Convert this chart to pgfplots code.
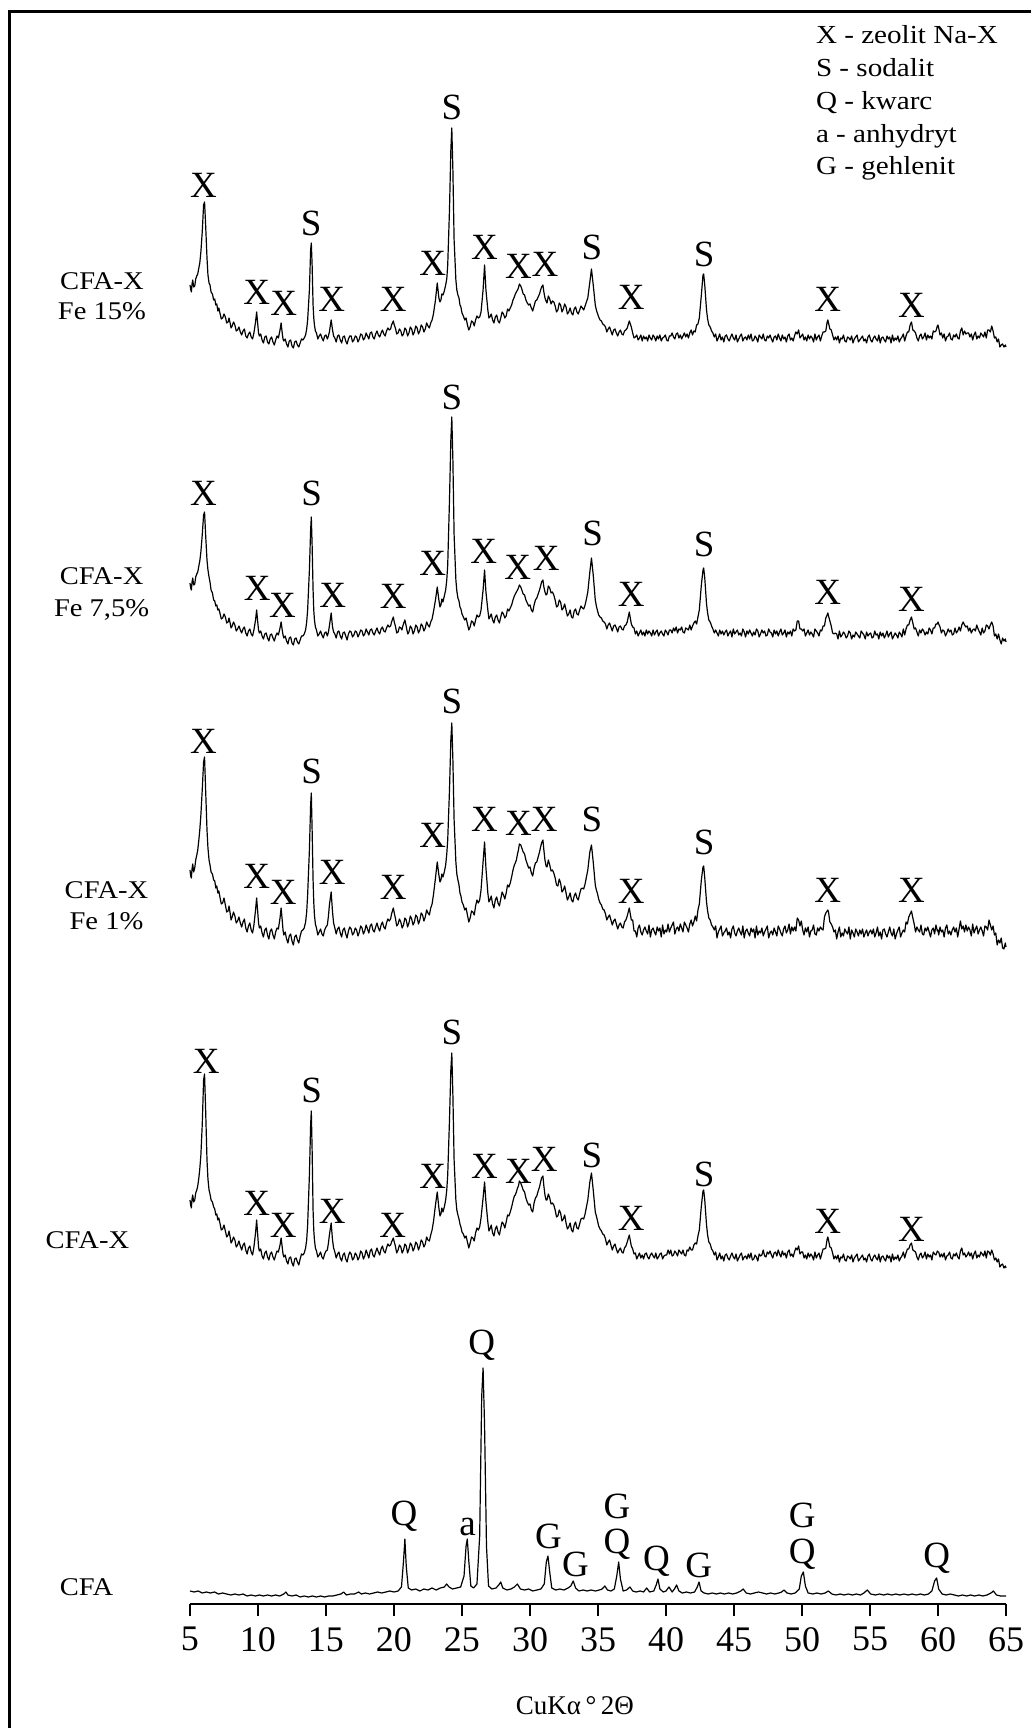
\documentclass[border=0pt]{standalone}
\usepackage{fontspec}
\setmainfont{Liberation Serif}
\newfontfamily\widefont{Liberation Serif}[FakeStretch=1.12]
\usepackage{pgfplots}
\usepackage{pgfplotstable}
\pgfplotsset{compat=1.18}

% XRD patterns: 2theta (t) and intensity above each pattern's own baseline (I)
% CFA-X Fe 15%
\pgfplotstableread[row sep=\\]{
t I\\
5.00 60\\ 5.05 56\\ 5.10 53\\ 5.15 61\\ 5.20 65\\ 5.27 58\\ 5.35 59\\ 5.42 66\\ 5.50 69\\ 5.57 71\\ 5.65 77\\ 5.72 82\\ 5.80 93\\ 5.90 113\\ 6.00 140\\ 6.07 143\\ 6.15 120\\ 6.25 87\\ 6.32 70\\ 6.40 62\\ 6.47 60\\ 6.55 53\\ 6.65 51\\ 6.74 45\\ 6.82 46\\ 6.90 40\\ 6.97 41\\ 7.05 34\\ 7.12 37\\ 7.20 32\\ 7.30 26\\ 7.40 27\\ 7.50 31\\ 7.60 28\\ 7.70 22\\ 7.80 23\\ 7.87 27\\ 7.95 22\\ 8.02 17\\ 8.10 19\\ 8.20 23\\ 8.30 20\\ 8.40 14\\ 8.50 15\\ 8.60 18\\ 8.70 13\\ 8.80 10\\ 8.90 14\\ 9.00 16\\ 9.10 9\\ 9.20 7\\ 9.30 11\\ 9.40 13\\ 9.50 8\\ 9.60 6\\ 9.70 12\\ 9.82 23\\ 9.90 33\\ 9.98 21\\
10.04 12\\ 10.10 9\\ 10.20 11\\ 10.30 5\\ 10.40 2\\ 10.50 8\\ 10.60 9\\ 10.70 3\\ 10.80 1\\ 10.90 6\\ 11.00 8\\ 11.10 3\\ 11.20 0\\ 11.30 5\\ 11.40 9\\ 11.50 7\\ 11.62 15\\ 11.70 22\\ 11.78 12\\ 11.84 6\\ 11.90 4\\ 12.00 6\\ 12.10 1\\ 12.20 -2\\ 12.30 4\\ 12.40 5\\ 12.50 -1\\ 12.60 -3\\ 12.70 3\\ 12.80 4\\ 12.90 0\\ 13.00 -2\\ 13.10 2\\ 13.20 6\\ 13.30 5\\ 13.40 7\\ 13.50 10\\ 13.58 16\\ 13.65 25\\ 13.78 55\\ 13.87 95\\ 13.92 102\\ 13.98 80\\ 14.05 40\\ 14.10 27\\ 14.15 20\\ 14.22 14\\ 14.30 12\\ 14.40 6\\ 14.50 9\\ 14.60 11\\ 14.70 7\\ 14.80 4\\ 14.90 9\\
15.00 10\\ 15.10 6\\ 15.18 9\\ 15.25 13\\ 15.38 25\\ 15.48 15\\ 15.56 9\\ 15.65 7\\ 15.75 3\\ 15.85 9\\ 15.95 10\\ 16.05 5\\ 16.15 2\\ 16.25 8\\ 16.35 9\\ 16.45 4\\ 16.55 1\\ 16.65 6\\ 16.75 9\\ 16.85 9\\ 16.95 3\\ 17.05 5\\ 17.15 9\\ 17.25 8\\ 17.35 3\\ 17.45 6\\ 17.55 11\\ 17.65 10\\ 17.75 5\\ 17.85 7\\ 17.95 12\\ 18.05 9\\ 18.15 6\\ 18.25 12\\ 18.35 13\\ 18.45 8\\ 18.55 6\\ 18.65 11\\ 18.75 14\\ 18.85 10\\ 18.95 8\\ 19.05 12\\ 19.15 15\\ 19.25 11\\ 19.35 9\\ 19.45 14\\ 19.55 17\\ 19.65 15\\ 19.75 16\\ 19.82 20\\ 19.95 24\\
20.02 20\\ 20.10 17\\ 20.20 11\\ 20.30 12\\ 20.40 16\\ 20.50 14\\ 20.60 9\\ 20.70 11\\ 20.80 17\\ 20.90 15\\ 21.00 9\\ 21.10 12\\ 21.20 18\\ 21.30 16\\ 21.40 10\\ 21.50 13\\ 21.60 19\\ 21.70 17\\ 21.80 11\\ 21.90 14\\ 22.00 20\\ 22.10 18\\ 22.20 13\\ 22.30 16\\ 22.40 22\\ 22.50 19\\ 22.60 17\\ 22.70 22\\ 22.80 25\\ 22.90 31\\ 23.05 45\\ 23.18 62\\ 23.30 47\\ 23.38 43\\ 23.45 45\\ 23.52 51\\ 23.60 50\\ 23.70 54\\ 23.80 60\\ 23.88 66\\ 23.95 80\\ 24.08 135\\ 24.18 195\\ 24.25 217\\ 24.33 175\\ 24.42 105\\ 24.55 65\\ 24.62 55\\ 24.70 50\\ 24.78 47\\ 24.85 40\\ 24.92 38\\
25.00 32\\ 25.10 29\\ 25.20 25\\ 25.30 27\\ 25.40 20\\ 25.50 15\\ 25.60 18\\ 25.70 24\\ 25.80 23\\ 25.90 19\\ 26.00 25\\ 26.10 29\\ 26.20 27\\ 26.30 28\\ 26.40 33\\ 26.55 55\\ 26.66 80\\ 26.76 55\\ 26.90 35\\ 26.98 27\\ 27.05 28\\ 27.15 31\\ 27.25 25\\ 27.35 22\\ 27.45 28\\ 27.55 30\\ 27.65 24\\ 27.75 22\\ 27.85 27\\ 27.95 33\\ 28.05 31\\ 28.15 27\\ 28.25 29\\ 28.35 36\\ 28.45 34\\ 28.55 37\\ 28.65 40\\ 28.75 45\\ 28.85 48\\ 28.92 51\\ 29.00 53\\ 29.08 55\\ 29.15 57\\ 29.22 61\\ 29.32 59\\ 29.40 56\\ 29.50 51\\ 29.60 50\\ 29.70 45\\ 29.80 42\\ 29.90 40\\
30.00 41\\ 30.10 37\\ 30.20 34\\ 30.30 39\\ 30.40 44\\ 30.50 45\\ 30.60 48\\ 30.70 51\\ 30.78 55\\ 30.85 58\\ 30.95 60\\ 31.02 53\\ 31.10 47\\ 31.18 44\\ 31.25 42\\ 31.35 49\\ 31.45 46\\ 31.55 41\\ 31.65 44\\ 31.75 43\\ 31.85 39\\ 31.95 33\\ 32.05 35\\ 32.15 42\\ 32.25 40\\ 32.35 33\\ 32.45 36\\ 32.55 41\\ 32.65 38\\ 32.75 31\\ 32.85 33\\ 32.95 37\\ 33.05 32\\ 33.15 30\\ 33.25 36\\ 33.35 38\\ 33.45 33\\ 33.55 31\\ 33.65 35\\ 33.75 39\\ 33.85 37\\ 33.95 35\\ 34.05 39\\ 34.15 43\\ 34.25 47\\ 34.40 63\\ 34.52 76\\ 34.65 60\\ 34.80 40\\ 34.88 35\\ 34.95 32\\
35.05 28\\ 35.15 25\\ 35.25 24\\ 35.35 21\\ 35.45 20\\ 35.55 18\\ 35.65 13\\ 35.75 16\\ 35.85 18\\ 35.95 14\\ 36.05 10\\ 36.15 15\\ 36.25 16\\ 36.35 12\\ 36.45 9\\ 36.55 13\\ 36.65 15\\ 36.75 11\\ 36.85 10\\ 36.95 14\\ 37.05 15\\ 37.15 17\\ 37.30 24\\ 37.45 18\\
37.55 12\\ 37.65 7\\ 37.75 8\\ 37.85 10\\ 37.95 5\\ 38.05 7\\ 38.15 10\\ 38.25 4\\ 38.35 9\\ 38.45 6\\ 38.55 8\\ 38.65 4\\ 38.75 10\\ 38.85 7\\ 38.95 5\\ 39.05 10\\ 39.15 8\\ 39.25 4\\ 39.35 9\\ 39.45 6\\ 39.55 10\\ 39.65 4\\ 39.75 7\\ 39.85 8\\ 39.95 10\\
40.05 5\\ 40.15 4\\ 40.25 9\\ 40.35 9\\ 40.45 12\\ 40.55 8\\ 40.65 6\\ 40.75 11\\ 40.85 12\\ 40.95 7\\ 41.05 10\\ 41.15 6\\ 41.25 9\\ 41.35 12\\ 41.45 8\\ 41.55 11\\ 41.65 7\\ 41.75 12\\ 41.85 15\\ 41.95 10\\ 42.05 14\\ 42.15 13\\ 42.25 20\\ 42.35 21\\ 42.45 27\\ 42.60 50\\ 42.72 70\\ 42.77 71\\ 42.85 60\\ 42.98 35\\ 43.06 26\\ 43.15 20\\ 43.25 18\\ 43.35 14\\
43.45 12\\ 43.55 8\\ 43.65 11\\ 43.75 4\\ 43.85 7\\ 43.95 11\\ 44.05 5\\ 44.15 8\\ 44.25 3\\ 44.35 9\\ 44.45 10\\ 44.55 6\\ 44.65 4\\ 44.75 8\\ 44.85 11\\ 44.95 7\\
45.05 5\\ 45.15 10\\ 45.25 3\\ 45.35 6\\ 45.45 9\\ 45.55 11\\ 45.65 4\\ 45.75 7\\ 45.85 8\\ 45.95 5\\ 46.05 10\\ 46.15 6\\ 46.25 11\\ 46.35 4\\ 46.45 5\\ 46.55 9\\ 46.65 7\\ 46.75 3\\ 46.85 10\\ 46.95 8\\ 47.05 6\\ 47.15 11\\ 47.25 5\\ 47.35 4\\ 47.45 9\\ 47.55 7\\ 47.65 10\\ 47.75 6\\ 47.85 3\\ 47.95 8\\ 48.05 9\\ 48.15 5\\ 48.25 11\\ 48.35 7\\ 48.45 4\\ 48.55 10\\ 48.65 6\\ 48.75 8\\ 48.85 3\\ 48.95 9\\ 49.05 11\\ 49.15 5\\ 49.25 7\\ 49.35 4\\ 49.45 9\\ 49.55 13\\ 49.65 11\\ 49.75 15\\ 49.85 7\\ 49.95 9\\
50.05 11\\ 50.15 5\\ 50.25 8\\ 50.35 4\\ 50.45 10\\ 50.55 6\\ 50.65 9\\ 50.75 7\\ 50.85 3\\ 50.95 11\\ 51.05 5\\ 51.15 8\\ 51.25 10\\ 51.35 4\\ 51.45 9\\ 51.55 13\\ 51.65 13\\ 51.75 14\\ 51.85 23\\ 51.90 25\\ 51.95 22\\ 52.05 16\\ 52.15 15\\ 52.25 10\\ 52.35 5\\ 52.45 8\\ 52.55 5\\ 52.65 9\\ 52.75 2\\ 52.85 7\\ 52.95 6\\ 53.05 10\\ 53.15 4\\ 53.25 3\\ 53.35 8\\ 53.45 7\\ 53.55 5\\ 53.65 9\\ 53.75 2\\ 53.85 6\\ 53.95 8\\ 54.05 10\\ 54.15 3\\ 54.25 5\\ 54.35 7\\ 54.45 9\\ 54.55 4\\ 54.65 6\\ 54.75 2\\ 54.85 8\\ 54.95 10\\
55.05 5\\ 55.15 3\\ 55.25 7\\ 55.35 9\\ 55.45 6\\ 55.55 4\\ 55.65 10\\ 55.75 2\\ 55.85 7\\ 55.95 8\\ 56.05 5\\ 56.15 3\\ 56.25 9\\ 56.35 6\\ 56.45 8\\ 56.55 2\\ 56.65 10\\ 56.75 4\\ 56.85 7\\ 56.95 5\\ 57.05 9\\ 57.15 3\\ 57.25 6\\ 57.35 8\\ 57.45 11\\ 57.55 4\\ 57.65 9\\ 57.75 13\\ 57.85 13\\ 57.95 20\\ 58.05 23\\ 58.15 15\\ 58.25 14\\ 58.35 12\\ 58.45 7\\ 58.55 4\\ 58.65 9\\ 58.75 11\\ 58.85 6\\ 58.95 8\\ 59.05 12\\ 59.15 5\\ 59.25 10\\ 59.35 7\\ 59.45 9\\ 59.55 6\\ 59.65 14\\ 59.75 13\\ 59.85 14\\ 59.95 19\\
60.00 20\\ 60.05 17\\ 60.15 10\\ 60.25 12\\ 60.35 7\\ 60.45 11\\ 60.55 4\\ 60.65 8\\ 60.75 9\\ 60.85 12\\ 60.95 6\\ 61.05 5\\ 61.15 10\\ 61.25 8\\ 61.35 11\\ 61.45 7\\ 61.55 6\\ 61.65 14\\ 61.75 17\\ 61.85 10\\ 61.95 14\\ 62.05 11\\ 62.15 12\\ 62.25 12\\ 62.35 8\\ 62.45 11\\ 62.55 5\\ 62.65 10\\ 62.75 13\\ 62.85 6\\ 62.95 9\\ 63.05 7\\ 63.15 12\\ 63.25 10\\ 63.35 8\\ 63.45 13\\ 63.55 7\\ 63.65 15\\ 63.75 15\\ 63.85 13\\ 63.95 19\\ 64.05 14\\ 64.15 7\\ 64.25 8\\ 64.35 3\\ 64.45 6\\ 64.55 -2\\ 64.65 0\\ 64.75 1\\ 64.85 -2\\ 64.95 0\\ 65.00 -2\\
}\feA

% CFA-X Fe 7,5%
\pgfplotstableread[row sep=\\]{
t I\\
5.00 57\\ 5.05 52\\ 5.10 50\\ 5.15 58\\ 5.20 62\\ 5.27 55\\ 5.35 56\\ 5.42 63\\ 5.50 66\\ 5.57 68\\ 5.65 74\\ 5.72 79\\ 5.80 88\\ 5.90 105\\ 6.00 125\\ 6.07 128\\ 6.15 105\\ 6.25 80\\ 6.32 70\\ 6.40 63\\ 6.47 58\\ 6.55 50\\ 6.65 47\\ 6.74 40\\ 6.82 39\\ 6.90 34\\ 6.97 35\\ 7.05 30\\ 7.12 31\\ 7.20 27\\ 7.30 21\\ 7.40 22\\ 7.50 26\\ 7.60 23\\ 7.70 17\\ 7.80 18\\ 7.87 22\\ 7.95 17\\ 8.02 12\\ 8.10 14\\ 8.20 18\\ 8.30 15\\ 8.40 9\\ 8.50 11\\ 8.60 14\\ 8.70 10\\ 8.80 7\\ 8.90 11\\ 9.00 13\\ 9.10 7\\ 9.20 4\\ 9.30 9\\ 9.40 11\\ 9.50 6\\ 9.60 4\\ 9.70 10\\ 9.82 20\\ 9.90 30\\ 9.98 18\\
10.04 10\\ 10.10 7\\ 10.20 9\\ 10.30 4\\ 10.40 1\\ 10.50 6\\ 10.60 7\\ 10.70 2\\ 10.80 -1\\ 10.90 5\\ 11.00 6\\ 11.10 2\\ 11.20 -1\\ 11.30 4\\ 11.40 7\\ 11.50 5\\ 11.62 12\\ 11.70 18\\ 11.78 10\\ 11.84 5\\ 11.90 2\\ 12.00 4\\ 12.10 -1\\ 12.20 -4\\ 12.30 2\\ 12.40 3\\ 12.50 -3\\ 12.60 -5\\ 12.70 1\\ 12.80 2\\ 12.90 -2\\ 13.00 -4\\ 13.10 0\\ 13.20 4\\ 13.30 4\\ 13.40 6\\ 13.50 10\\ 13.58 18\\ 13.65 30\\ 13.78 70\\ 13.87 110\\ 13.92 123\\ 13.98 95\\ 14.05 50\\ 14.10 30\\ 14.15 20\\ 14.22 13\\ 14.30 10\\ 14.40 4\\ 14.50 6\\ 14.60 9\\ 14.70 5\\ 14.80 2\\ 14.90 7\\
15.00 8\\ 15.10 4\\ 15.18 8\\ 15.25 14\\ 15.38 27\\ 15.48 13\\ 15.56 8\\ 15.65 6\\ 15.75 2\\ 15.85 8\\ 15.95 9\\ 16.05 4\\ 16.15 1\\ 16.25 7\\ 16.35 8\\ 16.45 4\\ 16.55 0\\ 16.65 6\\ 16.75 9\\ 16.85 8\\ 16.95 3\\ 17.05 5\\ 17.15 9\\ 17.25 8\\ 17.35 3\\ 17.45 6\\ 17.55 10\\ 17.65 9\\ 17.75 4\\ 17.85 6\\ 17.95 11\\ 18.05 8\\ 18.15 5\\ 18.25 10\\ 18.35 11\\ 18.45 7\\ 18.55 5\\ 18.65 9\\ 18.75 12\\ 18.85 8\\ 18.95 6\\ 19.05 11\\ 19.15 13\\ 19.25 9\\ 19.35 8\\ 19.45 12\\ 19.55 15\\ 19.65 13\\ 19.75 14\\ 19.82 18\\ 19.95 23\\
20.02 18\\ 20.10 14\\ 20.20 7\\ 20.30 8\\ 20.40 13\\ 20.50 12\\ 20.58 10\\ 20.65 14\\ 20.72 17\\ 20.80 20\\ 20.88 15\\ 20.95 10\\ 21.02 6\\ 21.10 8\\ 21.20 14\\ 21.30 12\\ 21.40 6\\ 21.50 9\\ 21.60 15\\ 21.70 13\\ 21.80 7\\ 21.90 10\\ 22.00 16\\ 22.10 14\\ 22.20 9\\ 22.30 12\\ 22.40 18\\ 22.50 15\\ 22.60 13\\ 22.70 18\\ 22.80 21\\ 22.90 28\\ 23.05 40\\ 23.18 53\\ 23.30 40\\ 23.38 33\\ 23.45 35\\ 23.52 41\\ 23.60 38\\ 23.70 44\\ 23.80 50\\ 23.88 60\\ 23.95 75\\ 24.08 140\\ 24.18 200\\ 24.25 223\\ 24.33 180\\ 24.42 105\\ 24.55 60\\ 24.62 49\\ 24.70 42\\ 24.78 39\\ 24.85 33\\ 24.92 31\\
25.00 26\\ 25.10 23\\ 25.20 20\\ 25.30 22\\ 25.40 16\\ 25.50 10\\ 25.60 13\\ 25.70 19\\ 25.80 18\\ 25.90 14\\ 26.00 20\\ 26.10 25\\ 26.20 23\\ 26.30 24\\ 26.40 30\\ 26.55 50\\ 26.66 70\\ 26.76 48\\ 26.90 30\\ 26.98 21\\ 27.05 23\\ 27.15 26\\ 27.25 20\\ 27.35 17\\ 27.45 23\\ 27.55 25\\ 27.65 20\\ 27.75 17\\ 27.85 23\\ 27.95 28\\ 28.05 26\\ 28.15 22\\ 28.25 24\\ 28.35 31\\ 28.45 29\\ 28.55 32\\ 28.65 35\\ 28.75 40\\ 28.85 44\\ 28.92 46\\ 29.00 48\\ 29.08 50\\ 29.15 52\\ 29.22 55\\ 29.32 53\\ 29.40 50\\ 29.50 46\\ 29.60 45\\ 29.70 40\\ 29.80 37\\ 29.90 34\\
30.00 35\\ 30.10 30\\ 30.20 28\\ 30.30 35\\ 30.40 40\\ 30.50 42\\ 30.60 46\\ 30.70 50\\ 30.78 54\\ 30.85 58\\ 30.95 60\\ 31.02 53\\ 31.10 48\\ 31.18 45\\ 31.25 46\\ 31.35 54\\ 31.45 52\\ 31.55 47\\ 31.65 48\\ 31.75 45\\ 31.85 40\\ 31.95 33\\ 32.05 34\\ 32.15 40\\ 32.25 38\\ 32.35 30\\ 32.45 32\\ 32.55 36\\ 32.65 30\\ 32.75 24\\ 32.85 26\\ 32.95 30\\ 33.05 23\\ 33.15 22\\ 33.25 29\\ 33.35 31\\ 33.45 26\\ 33.55 25\\ 33.65 30\\ 33.75 34\\ 33.85 32\\ 33.95 31\\ 34.05 35\\ 34.15 41\\ 34.25 48\\ 34.40 68\\ 34.52 82\\ 34.65 65\\ 34.80 40\\ 34.88 34\\ 34.95 30\\
35.05 25\\ 35.15 23\\ 35.25 22\\ 35.35 19\\ 35.45 18\\ 35.55 16\\ 35.65 11\\ 35.75 15\\ 35.85 17\\ 35.95 13\\ 36.05 9\\ 36.15 14\\ 36.25 15\\ 36.35 12\\ 36.45 8\\ 36.55 13\\ 36.65 14\\ 36.75 11\\ 36.85 10\\ 36.95 14\\ 37.05 15\\ 37.15 18\\ 37.30 28\\ 37.45 16\\
37.55 13\\ 37.65 12\\ 37.75 6\\ 37.85 9\\ 37.95 4\\ 38.05 7\\ 38.15 10\\ 38.25 5\\ 38.35 8\\ 38.45 4\\ 38.55 10\\ 38.65 6\\ 38.75 9\\ 38.85 7\\ 38.95 4\\ 39.05 10\\ 39.15 5\\ 39.25 8\\ 39.35 10\\ 39.45 4\\ 39.55 7\\ 39.65 9\\ 39.75 6\\ 39.85 4\\ 39.95 10\\
40.05 8\\ 40.15 5\\ 40.25 10\\ 40.35 10\\ 40.45 7\\ 40.55 12\\ 40.65 9\\ 40.75 13\\ 40.85 7\\ 40.95 11\\ 41.05 10\\ 41.15 13\\ 41.25 8\\ 41.35 7\\ 41.45 12\\ 41.55 11\\ 41.65 10\\ 41.75 15\\ 41.85 10\\ 41.95 14\\ 42.05 17\\ 42.15 19\\ 42.25 16\\ 42.35 23\\ 42.45 30\\ 42.60 55\\ 42.72 70\\ 42.77 72\\ 42.85 62\\ 42.98 36\\ 43.06 27\\ 43.15 20\\ 43.25 18\\ 43.35 14\\
43.45 11\\ 43.55 7\\ 43.65 10\\ 43.75 7\\ 43.85 4\\ 43.95 10\\ 44.05 6\\ 44.15 9\\ 44.25 5\\ 44.35 8\\ 44.45 10\\ 44.55 4\\ 44.65 7\\ 44.75 9\\ 44.85 3\\ 44.95 11\\
45.05 6\\ 45.15 8\\ 45.25 10\\ 45.35 5\\ 45.45 7\\ 45.55 4\\ 45.65 11\\ 45.75 8\\ 45.85 3\\ 45.95 9\\ 46.05 6\\ 46.15 10\\ 46.25 7\\ 46.35 4\\ 46.45 8\\ 46.55 5\\ 46.65 11\\ 46.75 9\\ 46.85 3\\ 46.95 6\\ 47.05 10\\ 47.15 7\\ 47.25 9\\ 47.35 4\\ 47.45 5\\ 47.55 11\\ 47.65 8\\ 47.75 7\\ 47.85 3\\ 47.95 10\\ 48.05 6\\ 48.15 9\\ 48.25 4\\ 48.35 8\\ 48.45 11\\ 48.55 5\\ 48.65 7\\ 48.75 10\\ 48.85 3\\ 48.95 8\\ 49.05 6\\ 49.15 9\\ 49.25 4\\ 49.35 11\\ 49.45 9\\ 49.55 10\\ 49.65 19\\ 49.75 19\\ 49.85 11\\ 49.95 11\\
50.05 9\\ 50.15 11\\ 50.25 4\\ 50.35 7\\ 50.45 10\\ 50.55 5\\ 50.65 8\\ 50.75 6\\ 50.85 3\\ 50.95 11\\ 51.05 9\\ 51.15 7\\ 51.25 4\\ 51.35 10\\ 51.45 9\\ 51.55 14\\ 51.65 14\\ 51.75 22\\ 51.85 25\\ 51.90 27\\ 51.95 24\\ 52.05 19\\ 52.15 14\\ 52.25 7\\ 52.35 6\\ 52.45 7\\ 52.55 6\\ 52.65 1\\ 52.75 9\\ 52.85 3\\ 52.95 5\\ 53.05 8\\ 53.15 6\\ 53.25 2\\ 53.35 4\\ 53.45 9\\ 53.55 7\\ 53.65 1\\ 53.75 5\\ 53.85 3\\ 53.95 8\\ 54.05 6\\ 54.15 4\\ 54.25 2\\ 54.35 9\\ 54.45 7\\ 54.55 5\\ 54.65 1\\ 54.75 8\\ 54.85 4\\ 54.95 6\\
55.05 7\\ 55.15 2\\ 55.25 3\\ 55.35 9\\ 55.45 5\\ 55.55 6\\ 55.65 1\\ 55.75 8\\ 55.85 4\\ 55.95 7\\ 56.05 2\\ 56.15 5\\ 56.25 9\\ 56.35 3\\ 56.45 6\\ 56.55 8\\ 56.65 1\\ 56.75 4\\ 56.85 7\\ 56.95 5\\ 57.05 2\\ 57.15 8\\ 57.25 6\\ 57.35 3\\ 57.45 11\\ 57.55 5\\ 57.65 11\\ 57.75 15\\ 57.85 15\\ 57.95 20\\ 58.05 23\\ 58.15 17\\ 58.25 11\\ 58.35 12\\ 58.45 8\\ 58.55 4\\ 58.65 10\\ 58.75 7\\ 58.85 11\\ 58.95 9\\ 59.05 5\\ 59.15 8\\ 59.25 6\\ 59.35 12\\ 59.45 10\\ 59.55 6\\ 59.65 12\\ 59.75 12\\ 59.85 16\\ 59.95 16\\
60.00 18\\ 60.05 16\\ 60.15 13\\ 60.25 7\\ 60.35 10\\ 60.45 9\\ 60.55 4\\ 60.65 7\\ 60.75 11\\ 60.85 8\\ 60.95 10\\ 61.05 5\\ 61.15 6\\ 61.25 12\\ 61.35 7\\ 61.45 9\\ 61.55 13\\ 61.65 9\\ 61.75 15\\ 61.85 18\\ 61.95 15\\ 62.05 13\\ 62.15 14\\ 62.25 9\\ 62.35 12\\ 62.45 7\\ 62.55 10\\ 62.65 11\\ 62.75 9\\ 62.85 15\\ 62.95 11\\ 63.05 8\\ 63.15 5\\ 63.25 12\\ 63.35 7\\ 63.45 9\\ 63.55 15\\ 63.65 14\\ 63.75 11\\ 63.85 15\\ 63.95 18\\ 64.05 14\\ 64.15 4\\ 64.25 6\\ 64.35 1\\ 64.45 6\\ 64.55 0\\ 64.65 -4\\ 64.75 2\\ 64.85 -1\\ 64.95 1\\ 65.00 -2\\
}\feB

% CFA-X Fe 1%
\pgfplotstableread[row sep=\\]{
t I\\
5.00 70\\ 5.05 64\\ 5.10 62\\ 5.15 71\\ 5.20 76\\ 5.27 68\\ 5.35 72\\ 5.42 80\\ 5.50 85\\ 5.57 90\\ 5.65 100\\ 5.72 110\\ 5.80 125\\ 5.90 150\\ 6.00 178\\ 6.07 183\\ 6.15 150\\ 6.25 110\\ 6.32 92\\ 6.40 80\\ 6.47 75\\ 6.55 68\\ 6.65 66\\ 6.74 60\\ 6.82 59\\ 6.90 52\\ 6.97 54\\ 7.05 47\\ 7.12 49\\ 7.20 43\\ 7.30 36\\ 7.40 37\\ 7.50 42\\ 7.60 35\\ 7.70 28\\ 7.80 29\\ 7.87 34\\ 7.95 27\\ 8.02 20\\ 8.10 23\\ 8.20 28\\ 8.30 24\\ 8.40 17\\ 8.50 19\\ 8.60 23\\ 8.70 17\\ 8.80 13\\ 8.90 18\\ 9.00 21\\ 9.10 12\\ 9.20 8\\ 9.30 14\\ 9.40 17\\ 9.50 10\\ 9.60 7\\ 9.70 15\\ 9.82 30\\ 9.90 42\\ 9.98 28\\
10.04 17\\ 10.10 12\\ 10.20 14\\ 10.30 7\\ 10.40 3\\ 10.50 10\\ 10.60 12\\ 10.70 5\\ 10.80 1\\ 10.90 9\\ 11.00 11\\ 11.10 5\\ 11.20 1\\ 11.30 8\\ 11.40 12\\ 11.50 11\\ 11.62 22\\ 11.70 32\\ 11.78 20\\ 11.84 10\\ 11.90 5\\ 12.00 8\\ 12.10 1\\ 12.20 -3\\ 12.30 4\\ 12.40 6\\ 12.50 -1\\ 12.60 -5\\ 12.70 3\\ 12.80 5\\ 12.90 0\\ 13.00 -3\\ 13.10 4\\ 13.20 9\\ 13.30 10\\ 13.40 12\\ 13.50 18\\ 13.58 28\\ 13.65 45\\ 13.78 90\\ 13.87 135\\ 13.92 147\\ 13.98 110\\ 14.05 60\\ 14.10 38\\ 14.15 25\\ 14.22 16\\ 14.30 12\\ 14.40 5\\ 14.50 8\\ 14.60 11\\ 14.70 6\\ 14.80 4\\ 14.90 10\\
15.00 13\\ 15.10 15\\ 15.18 24\\ 15.25 35\\ 15.38 48\\ 15.48 28\\ 15.56 17\\ 15.65 12\\ 15.75 6\\ 15.85 11\\ 15.95 13\\ 16.05 7\\ 16.15 3\\ 16.25 10\\ 16.35 12\\ 16.45 6\\ 16.55 2\\ 16.65 9\\ 16.75 13\\ 16.85 11\\ 16.95 5\\ 17.05 7\\ 17.15 12\\ 17.25 10\\ 17.35 4\\ 17.45 8\\ 17.55 14\\ 17.65 12\\ 17.75 6\\ 17.85 9\\ 17.95 15\\ 18.05 11\\ 18.15 7\\ 18.25 14\\ 18.35 16\\ 18.45 10\\ 18.55 8\\ 18.65 13\\ 18.75 17\\ 18.85 12\\ 18.95 9\\ 19.05 15\\ 19.15 18\\ 19.25 13\\ 19.35 11\\ 19.45 17\\ 19.55 21\\ 19.65 19\\ 19.75 21\\ 19.82 26\\ 19.95 32\\
20.02 27\\ 20.10 22\\ 20.20 14\\ 20.30 16\\ 20.40 21\\ 20.50 18\\ 20.60 12\\ 20.70 15\\ 20.80 22\\ 20.90 20\\ 21.00 13\\ 21.10 17\\ 21.20 24\\ 21.30 21\\ 21.40 15\\ 21.50 18\\ 21.60 25\\ 21.70 23\\ 21.80 16\\ 21.90 20\\ 22.00 27\\ 22.10 25\\ 22.20 19\\ 22.30 23\\ 22.40 30\\ 22.50 27\\ 22.60 25\\ 22.70 32\\ 22.80 36\\ 22.90 45\\ 23.05 62\\ 23.18 78\\ 23.30 65\\ 23.38 58\\ 23.45 60\\ 23.52 66\\ 23.60 63\\ 23.70 68\\ 23.80 75\\ 23.88 86\\ 23.95 100\\ 24.08 150\\ 24.18 200\\ 24.25 217\\ 24.33 180\\ 24.42 120\\ 24.55 78\\ 24.62 66\\ 24.70 60\\ 24.78 55\\ 24.85 47\\ 24.92 44\\
25.00 38\\ 25.10 35\\ 25.20 30\\ 25.30 32\\ 25.40 25\\ 25.50 18\\ 25.60 22\\ 25.70 29\\ 25.80 28\\ 25.90 25\\ 26.00 34\\ 26.10 40\\ 26.20 37\\ 26.30 40\\ 26.40 50\\ 26.55 78\\ 26.66 98\\ 26.76 72\\ 26.90 47\\ 26.98 38\\ 27.05 40\\ 27.15 44\\ 27.25 36\\ 27.35 32\\ 27.45 40\\ 27.55 43\\ 27.65 37\\ 27.75 34\\ 27.85 41\\ 27.95 48\\ 28.05 45\\ 28.15 41\\ 28.25 47\\ 28.35 55\\ 28.45 53\\ 28.55 57\\ 28.65 63\\ 28.75 70\\ 28.85 75\\ 28.92 77\\ 29.00 80\\ 29.08 86\\ 29.15 90\\ 29.22 96\\ 29.32 95\\ 29.40 92\\ 29.50 88\\ 29.60 86\\ 29.70 80\\ 29.80 76\\ 29.90 72\\
30.00 73\\ 30.10 67\\ 30.20 64\\ 30.30 72\\ 30.40 77\\ 30.50 78\\ 30.60 83\\ 30.70 88\\ 30.78 93\\ 30.85 97\\ 30.95 100\\ 31.02 90\\ 31.10 80\\ 31.18 74\\ 31.25 73\\ 31.35 80\\ 31.45 75\\ 31.55 69\\ 31.65 70\\ 31.75 67\\ 31.85 62\\ 31.95 55\\ 32.05 54\\ 32.15 61\\ 32.25 57\\ 32.35 48\\ 32.45 50\\ 32.55 54\\ 32.65 47\\ 32.75 40\\ 32.85 43\\ 32.95 47\\ 33.05 40\\ 33.15 38\\ 33.25 44\\ 33.35 47\\ 33.45 42\\ 33.55 40\\ 33.65 46\\ 33.75 51\\ 33.85 52\\ 33.95 51\\ 34.05 56\\ 34.15 63\\ 34.25 70\\ 34.40 88\\ 34.52 95\\ 34.65 78\\ 34.80 55\\ 34.88 50\\ 34.95 47\\
35.05 41\\ 35.15 37\\ 35.25 35\\ 35.35 31\\ 35.45 30\\ 35.55 26\\ 35.65 20\\ 35.75 23\\ 35.85 25\\ 35.95 20\\ 36.05 15\\ 36.15 19\\ 36.25 21\\ 36.35 16\\ 36.45 11\\ 36.55 15\\ 36.65 17\\ 36.75 13\\ 36.85 12\\ 36.95 18\\ 37.05 20\\ 37.15 24\\ 37.30 32\\ 37.45 20\\
37.55 20\\ 37.65 9\\ 37.75 9\\ 37.85 3\\ 37.95 12\\ 38.05 15\\ 38.15 8\\ 38.25 5\\ 38.35 10\\ 38.45 13\\ 38.55 9\\ 38.65 6\\ 38.75 15\\ 38.85 3\\ 38.95 10\\ 39.05 12\\ 39.15 8\\ 39.25 5\\ 39.35 13\\ 39.45 9\\ 39.55 12\\ 39.65 3\\ 39.75 15\\ 39.85 6\\ 39.95 10\\
40.05 8\\ 40.15 16\\ 40.25 8\\ 40.35 12\\ 40.45 15\\ 40.55 18\\ 40.65 6\\ 40.75 11\\ 40.85 13\\ 40.95 9\\ 41.05 16\\ 41.15 12\\ 41.25 8\\ 41.35 18\\ 41.45 15\\ 41.55 12\\ 41.65 8\\ 41.75 16\\ 41.85 20\\ 41.95 14\\ 42.05 18\\ 42.15 24\\ 42.25 19\\ 42.35 30\\ 42.45 36\\ 42.60 60\\ 42.72 73\\ 42.77 74\\ 42.85 62\\ 42.98 38\\ 43.06 29\\ 43.15 22\\ 43.25 20\\ 43.35 15\\
43.45 13\\ 43.55 10\\ 43.65 14\\ 43.75 2\\ 43.85 8\\ 43.95 11\\ 44.05 14\\ 44.15 4\\ 44.25 7\\ 44.35 9\\ 44.45 12\\ 44.55 5\\ 44.65 8\\ 44.75 2\\ 44.85 11\\ 44.95 14\\
45.05 7\\ 45.15 4\\ 45.25 9\\ 45.35 12\\ 45.45 8\\ 45.55 5\\ 45.65 14\\ 45.75 2\\ 45.85 9\\ 45.95 11\\ 46.05 7\\ 46.15 4\\ 46.25 12\\ 46.35 8\\ 46.45 11\\ 46.55 2\\ 46.65 14\\ 46.75 5\\ 46.85 9\\ 46.95 7\\ 47.05 12\\ 47.15 4\\ 47.25 8\\ 47.35 11\\ 47.45 14\\ 47.55 2\\ 47.65 7\\ 47.75 9\\ 47.85 5\\ 47.95 12\\ 48.05 8\\ 48.15 4\\ 48.25 14\\ 48.35 11\\ 48.45 7\\ 48.55 4\\ 48.65 11\\ 48.75 14\\ 48.85 7\\ 48.95 10\\ 49.05 16\\ 49.15 6\\ 49.25 13\\ 49.35 9\\ 49.45 13\\ 49.55 9\\ 49.65 22\\ 49.75 20\\ 49.85 14\\ 49.95 19\\
50.05 10\\ 50.15 5\\ 50.25 12\\ 50.35 8\\ 50.45 13\\ 50.55 3\\ 50.65 9\\ 50.75 10\\ 50.85 15\\ 50.95 6\\ 51.05 5\\ 51.15 12\\ 51.25 9\\ 51.35 13\\ 51.45 11\\ 51.55 10\\ 51.65 23\\ 51.75 27\\ 51.85 29\\ 51.90 30\\ 51.95 28\\ 52.05 18\\ 52.15 16\\ 52.25 13\\ 52.35 8\\ 52.45 10\\ 52.55 1\\ 52.65 8\\ 52.75 13\\ 52.85 3\\ 52.95 7\\ 53.05 4\\ 53.15 11\\ 53.25 8\\ 53.35 6\\ 53.45 13\\ 53.55 1\\ 53.65 10\\ 53.75 7\\ 53.85 3\\ 53.95 11\\ 54.05 8\\ 54.15 4\\ 54.25 10\\ 54.35 6\\ 54.45 11\\ 54.55 3\\ 54.65 7\\ 54.75 10\\ 54.85 4\\ 54.95 8\\
55.05 10\\ 55.15 6\\ 55.25 11\\ 55.35 3\\ 55.45 7\\ 55.55 13\\ 55.65 4\\ 55.75 8\\ 55.85 1\\ 55.95 10\\ 56.05 11\\ 56.15 6\\ 56.25 3\\ 56.35 8\\ 56.45 13\\ 56.55 7\\ 56.65 4\\ 56.75 11\\ 56.85 1\\ 56.95 6\\ 57.05 10\\ 57.15 13\\ 57.25 3\\ 57.35 7\\ 57.45 10\\ 57.55 8\\ 57.65 18\\ 57.75 16\\ 57.85 23\\ 57.95 26\\ 58.05 29\\ 58.15 22\\ 58.25 16\\ 58.35 8\\ 58.45 13\\ 58.55 10\\ 58.65 8\\ 58.75 15\\ 58.85 6\\ 58.95 5\\ 59.05 12\\ 59.15 9\\ 59.25 13\\ 59.35 8\\ 59.45 3\\ 59.55 10\\ 59.65 12\\ 59.75 6\\ 59.85 15\\ 59.95 9\\
60.00 10\\ 60.05 5\\ 60.15 13\\ 60.25 8\\ 60.35 10\\ 60.45 3\\ 60.55 12\\ 60.65 15\\ 60.75 6\\ 60.85 9\\ 60.95 5\\ 61.05 10\\ 61.15 13\\ 61.25 8\\ 61.35 12\\ 61.45 3\\ 61.55 11\\ 61.65 19\\ 61.75 11\\ 61.85 14\\ 61.95 8\\ 62.05 15\\ 62.15 9\\ 62.25 13\\ 62.35 10\\ 62.45 4\\ 62.55 16\\ 62.65 7\\ 62.75 11\\ 62.85 14\\ 62.95 6\\ 63.05 10\\ 63.15 13\\ 63.25 9\\ 63.35 4\\ 63.45 14\\ 63.55 13\\ 63.65 10\\ 63.75 20\\ 63.85 15\\ 63.95 10\\ 64.05 14\\ 64.15 5\\ 64.25 7\\ 64.35 -5\\ 64.45 0\\ 64.55 -3\\ 64.65 2\\ 64.75 -8\\ 64.85 -9\\ 64.95 -3\\ 65.00 -7\\
}\feC

% CFA-X
\pgfplotstableread[row sep=\\]{
t I\\
5.00 62\\ 5.05 57\\ 5.10 54\\ 5.15 63\\ 5.20 67\\ 5.27 60\\ 5.35 62\\ 5.42 69\\ 5.50 72\\ 5.57 76\\ 5.65 84\\ 5.72 93\\ 5.80 107\\ 5.90 137\\ 6.00 182\\ 6.07 188\\ 6.15 152\\ 6.25 102\\ 6.32 83\\ 6.40 72\\ 6.47 68\\ 6.55 62\\ 6.65 60\\ 6.74 55\\ 6.82 53\\ 6.90 47\\ 6.97 48\\ 7.05 42\\ 7.12 44\\ 7.20 39\\ 7.30 32\\ 7.40 33\\ 7.50 37\\ 7.60 31\\ 7.70 25\\ 7.80 27\\ 7.87 31\\ 7.95 25\\ 8.02 19\\ 8.10 21\\ 8.20 25\\ 8.30 22\\ 8.40 15\\ 8.50 17\\ 8.60 21\\ 8.70 16\\ 8.80 12\\ 8.90 17\\ 9.00 19\\ 9.10 12\\ 9.20 8\\ 9.30 14\\ 9.40 16\\ 9.50 10\\ 9.60 7\\ 9.70 15\\ 9.82 29\\ 9.90 42\\ 9.98 27\\
10.04 15\\ 10.10 11\\ 10.20 13\\ 10.30 6\\ 10.40 3\\ 10.50 9\\ 10.60 11\\ 10.70 5\\ 10.80 2\\ 10.90 8\\ 11.00 10\\ 11.10 5\\ 11.20 2\\ 11.30 7\\ 11.40 11\\ 11.50 10\\ 11.62 17\\ 11.70 24\\ 11.78 15\\ 11.84 8\\ 11.90 5\\ 12.00 7\\ 12.10 1\\ 12.20 -2\\ 12.30 4\\ 12.40 5\\ 12.50 -1\\ 12.60 -4\\ 12.70 3\\ 12.80 4\\ 12.90 0\\ 13.00 -3\\ 13.10 3\\ 13.20 8\\ 13.30 7\\ 13.40 9\\ 13.50 14\\ 13.58 22\\ 13.65 37\\ 13.78 87\\ 13.87 137\\ 13.92 151\\ 13.98 112\\ 14.05 52\\ 14.10 32\\ 14.15 22\\ 14.22 14\\ 14.30 11\\ 14.40 5\\ 14.50 7\\ 14.60 10\\ 14.70 5\\ 14.80 3\\ 14.90 8\\
15.00 11\\ 15.10 12\\ 15.18 19\\ 15.25 27\\ 15.38 39\\ 15.48 22\\ 15.56 14\\ 15.65 10\\ 15.75 4\\ 15.85 8\\ 15.95 10\\ 16.05 4\\ 16.15 1\\ 16.25 7\\ 16.35 9\\ 16.45 3\\ 16.55 0\\ 16.65 6\\ 16.75 10\\ 16.85 8\\ 16.95 2\\ 17.05 4\\ 17.15 9\\ 17.25 7\\ 17.35 2\\ 17.45 5\\ 17.55 11\\ 17.65 9\\ 17.75 3\\ 17.85 6\\ 17.95 12\\ 18.05 8\\ 18.15 4\\ 18.25 11\\ 18.35 13\\ 18.45 7\\ 18.55 5\\ 18.65 10\\ 18.75 14\\ 18.85 10\\ 18.95 7\\ 19.05 13\\ 19.15 16\\ 19.25 11\\ 19.35 9\\ 19.45 14\\ 19.55 18\\ 19.65 16\\ 19.75 17\\ 19.82 20\\ 19.95 24\\
20.02 20\\ 20.10 16\\ 20.20 9\\ 20.30 12\\ 20.40 17\\ 20.50 15\\ 20.60 9\\ 20.70 12\\ 20.80 18\\ 20.90 16\\ 21.00 9\\ 21.10 13\\ 21.20 19\\ 21.30 17\\ 21.40 11\\ 21.50 14\\ 21.60 20\\ 21.70 18\\ 21.80 12\\ 21.90 16\\ 22.00 22\\ 22.10 20\\ 22.20 15\\ 22.30 18\\ 22.40 25\\ 22.50 22\\ 22.60 21\\ 22.70 27\\ 22.80 32\\ 22.90 40\\ 23.05 57\\ 23.18 70\\ 23.30 54\\ 23.38 46\\ 23.45 48\\ 23.52 54\\ 23.60 50\\ 23.70 55\\ 23.80 62\\ 23.88 72\\ 23.95 87\\ 24.08 142\\ 24.18 192\\ 24.25 209\\ 24.33 167\\ 24.42 102\\ 24.55 62\\ 24.62 52\\ 24.70 47\\ 24.78 43\\ 24.85 38\\ 24.92 35\\
25.00 30\\ 25.10 28\\ 25.20 24\\ 25.30 26\\ 25.40 20\\ 25.50 14\\ 25.60 19\\ 25.70 25\\ 25.80 24\\ 25.90 21\\ 26.00 29\\ 26.10 34\\ 26.20 32\\ 26.30 35\\ 26.40 44\\ 26.55 64\\ 26.66 80\\ 26.76 60\\ 26.90 40\\ 26.98 31\\ 27.05 33\\ 27.15 37\\ 27.25 29\\ 27.35 26\\ 27.45 33\\ 27.55 36\\ 27.65 30\\ 27.75 27\\ 27.85 34\\ 27.95 40\\ 28.05 38\\ 28.15 34\\ 28.25 40\\ 28.35 47\\ 28.45 46\\ 28.55 50\\ 28.65 55\\ 28.75 61\\ 28.85 66\\ 28.92 67\\ 29.00 70\\ 29.08 74\\ 29.15 76\\ 29.22 81\\ 29.32 79\\ 29.40 76\\ 29.50 72\\ 29.60 70\\ 29.70 64\\ 29.80 60\\ 29.90 57\\
30.00 58\\ 30.10 52\\ 30.20 50\\ 30.30 59\\ 30.40 64\\ 30.50 66\\ 30.60 71\\ 30.70 75\\ 30.78 80\\ 30.85 84\\ 30.95 86\\ 31.02 76\\ 31.10 67\\ 31.18 62\\ 31.25 62\\ 31.35 68\\ 31.45 64\\ 31.55 58\\ 31.65 59\\ 31.75 57\\ 31.85 52\\ 31.95 45\\ 32.05 46\\ 32.15 52\\ 32.25 49\\ 32.35 41\\ 32.45 43\\ 32.55 47\\ 32.65 39\\ 32.75 33\\ 32.85 35\\ 32.95 39\\ 33.05 32\\ 33.15 30\\ 33.25 37\\ 33.35 40\\ 33.45 34\\ 33.55 33\\ 33.65 38\\ 33.75 43\\ 33.85 44\\ 33.95 43\\ 34.05 48\\ 34.15 55\\ 34.25 62\\ 34.40 80\\ 34.52 89\\ 34.65 72\\ 34.80 50\\ 34.88 46\\ 34.95 42\\
35.05 36\\ 35.15 33\\ 35.25 31\\ 35.35 28\\ 35.45 27\\ 35.55 23\\ 35.65 17\\ 35.75 20\\ 35.85 22\\ 35.95 17\\ 36.05 12\\ 36.15 16\\ 36.25 18\\ 36.35 13\\ 36.45 9\\ 36.55 12\\ 36.65 14\\ 36.75 10\\ 36.85 9\\ 36.95 14\\ 37.05 16\\ 37.15 20\\ 37.30 27\\ 37.45 16\\
37.55 13\\ 37.65 8\\ 37.75 9\\ 37.85 3\\ 37.95 6\\ 38.05 9\\ 38.15 4\\ 38.25 7\\ 38.35 3\\ 38.45 8\\ 38.55 9\\ 38.65 5\\ 38.75 3\\ 38.85 7\\ 38.95 9\\ 39.05 6\\ 39.15 4\\ 39.25 9\\ 39.35 3\\ 39.45 5\\ 39.55 8\\ 39.65 9\\ 39.75 3\\ 39.85 6\\ 39.95 7\\
40.05 7\\ 40.15 12\\ 40.25 8\\ 40.35 12\\ 40.45 6\\ 40.55 7\\ 40.65 11\\ 40.75 9\\ 40.85 6\\ 40.95 12\\ 41.05 10\\ 41.15 8\\ 41.25 12\\ 41.35 7\\ 41.45 6\\ 41.55 12\\ 41.65 11\\ 41.75 15\\ 41.85 12\\ 41.95 12\\ 42.05 17\\ 42.15 19\\ 42.25 18\\ 42.35 26\\ 42.45 32\\ 42.60 56\\ 42.72 71\\ 42.77 72\\ 42.85 62\\ 42.98 37\\ 43.06 27\\ 43.15 20\\ 43.25 18\\ 43.35 13\\
43.45 11\\ 43.55 7\\ 43.65 10\\ 43.75 2\\ 43.85 5\\ 43.95 9\\ 44.05 3\\ 44.15 6\\ 44.25 1\\ 44.35 7\\ 44.45 8\\ 44.55 4\\ 44.65 2\\ 44.75 6\\ 44.85 9\\ 44.95 5\\
45.05 3\\ 45.15 8\\ 45.25 1\\ 45.35 4\\ 45.45 7\\ 45.55 9\\ 45.65 2\\ 45.75 5\\ 45.85 6\\ 45.95 3\\ 46.05 8\\ 46.15 4\\ 46.25 9\\ 46.35 2\\ 46.45 3\\ 46.55 7\\ 46.65 5\\ 46.75 1\\ 46.85 8\\ 46.95 6\\ 47.05 7\\ 47.15 12\\ 47.25 6\\ 47.35 5\\ 47.45 10\\ 47.55 8\\ 47.65 11\\ 47.75 7\\ 47.85 4\\ 47.95 9\\ 48.05 10\\ 48.15 6\\ 48.25 12\\ 48.35 8\\ 48.45 5\\ 48.55 11\\ 48.65 7\\ 48.75 9\\ 48.85 4\\ 48.95 10\\ 49.05 12\\ 49.15 6\\ 49.25 8\\ 49.35 5\\ 49.45 10\\ 49.55 14\\ 49.65 12\\ 49.75 16\\ 49.85 8\\ 49.95 10\\
50.05 10\\ 50.15 4\\ 50.25 7\\ 50.35 3\\ 50.45 9\\ 50.55 5\\ 50.65 8\\ 50.75 6\\ 50.85 2\\ 50.95 10\\ 51.05 4\\ 51.15 7\\ 51.25 9\\ 51.35 3\\ 51.45 8\\ 51.55 13\\ 51.65 13\\ 51.75 14\\ 51.85 23\\ 51.90 25\\ 51.95 22\\ 52.05 15\\ 52.15 14\\ 52.25 9\\ 52.35 3\\ 52.45 6\\ 52.55 3\\ 52.65 7\\ 52.75 0\\ 52.85 5\\ 52.95 4\\ 53.05 8\\ 53.15 2\\ 53.25 1\\ 53.35 6\\ 53.45 5\\ 53.55 3\\ 53.65 7\\ 53.75 0\\ 53.85 4\\ 53.95 6\\ 54.05 8\\ 54.15 1\\ 54.25 3\\ 54.35 5\\ 54.45 7\\ 54.55 2\\ 54.65 4\\ 54.75 0\\ 54.85 6\\ 54.95 8\\
55.05 3\\ 55.15 1\\ 55.25 5\\ 55.35 7\\ 55.45 4\\ 55.55 2\\ 55.65 8\\ 55.75 0\\ 55.85 5\\ 55.95 6\\ 56.05 3\\ 56.15 1\\ 56.25 7\\ 56.35 4\\ 56.45 6\\ 56.55 0\\ 56.65 8\\ 56.75 2\\ 56.85 5\\ 56.95 3\\ 57.05 7\\ 57.15 1\\ 57.25 4\\ 57.35 6\\ 57.45 10\\ 57.55 4\\ 57.65 9\\ 57.75 13\\ 57.85 13\\ 57.95 17\\ 58.05 19\\ 58.15 12\\ 58.25 11\\ 58.35 10\\ 58.45 5\\ 58.55 2\\ 58.65 7\\ 58.75 9\\ 58.85 4\\ 58.95 6\\ 59.05 10\\ 59.15 3\\ 59.25 8\\ 59.35 5\\ 59.45 7\\ 59.55 2\\ 59.65 10\\ 59.75 8\\ 59.85 7\\ 59.95 11\\
60.00 10\\ 60.05 10\\ 60.15 5\\ 60.25 8\\ 60.35 5\\ 60.45 9\\ 60.55 2\\ 60.65 6\\ 60.75 7\\ 60.85 10\\ 60.95 4\\ 61.05 3\\ 61.15 8\\ 61.25 6\\ 61.35 9\\ 61.45 5\\ 61.55 3\\ 61.65 11\\ 61.75 14\\ 61.85 7\\ 61.95 9\\ 62.05 5\\ 62.15 7\\ 62.25 10\\ 62.35 6\\ 62.45 9\\ 62.55 3\\ 62.65 8\\ 62.75 11\\ 62.85 4\\ 62.95 7\\ 63.05 5\\ 63.15 10\\ 63.25 8\\ 63.35 6\\ 63.45 11\\ 63.55 4\\ 63.65 11\\ 63.75 10\\ 63.85 7\\ 63.95 12\\ 64.05 8\\ 64.15 2\\ 64.25 4\\ 64.35 0\\ 64.45 3\\ 64.55 -5\\ 64.65 -3\\ 64.75 -2\\ 64.85 -6\\ 64.95 -4\\ 65.00 -6\\
}\feD

% CFA (raw fly ash)
\pgfplotstableread[row sep=\\]{
t I\\
5.0 5\\ 5.3 4\\ 5.6 5\\ 5.9 3\\ 6.2 4\\ 6.5 3\\ 6.8 4\\ 7.1 2\\ 7.4 3\\ 7.7 2\\ 8.0 1\\ 8.3 2\\ 8.6 1\\ 8.9 2\\ 9.2 0\\ 9.5 1\\ 9.8 0\\ 10.1 1\\ 10.4 0\\ 10.7 1\\ 11.0 0\\ 11.3 1\\ 11.6 0\\ 11.9 2\\ 12.05 4\\ 12.2 1\\ 12.5 0\\ 12.8 1\\ 13.1 -1\\ 13.4 0\\ 13.7 -1\\ 14.0 0\\ 14.3 -1\\ 14.6 0\\ 14.9 -1\\
15.2 0\\ 15.5 0\\ 15.8 1\\ 16.1 2\\ 16.3 4\\ 16.5 1\\ 16.8 2\\ 17.1 2\\ 17.4 4\\ 17.6 2\\ 17.9 3\\ 18.2 2\\ 18.5 3\\ 18.8 4\\ 19.1 3\\ 19.4 4\\ 19.7 5\\ 20.0 4\\ 20.3 5\\ 20.55 9\\ 20.7 35\\ 20.8 57\\ 20.9 30\\ 21.05 8\\ 21.3 6\\ 21.6 7\\ 21.9 5\\ 22.2 7\\ 22.5 6\\ 22.8 8\\ 23.1 6\\ 23.4 8\\ 23.7 9\\ 23.87 12\\ 24.05 9\\ 24.3 7\\ 24.6 8\\ 24.9 9\\
25.15 20\\ 25.3 50\\ 25.39 57\\ 25.5 35\\ 25.65 10\\ 25.85 8\\ 26.1 12\\ 26.3 60\\ 26.45 200\\ 26.55 228\\ 26.66 170\\ 26.8 50\\ 26.95 10\\ 27.2 7\\ 27.5 8\\ 27.7 11\\ 27.85 14\\ 28.0 8\\ 28.3 6\\ 28.6 7\\ 28.85 9\\ 29.07 12\\ 29.3 7\\ 29.6 6\\ 29.9 7\\ 30.2 5\\ 30.5 6\\ 30.8 7\\
31.05 12\\ 31.2 34\\ 31.32 40\\ 31.45 24\\ 31.6 8\\ 31.9 6\\ 32.2 7\\ 32.5 6\\ 32.8 8\\ 33.0 10\\ 33.18 15\\ 33.35 8\\ 33.6 5\\ 33.9 6\\ 34.2 5\\ 34.5 6\\ 34.8 5\\ 35.1 6\\ 35.3 7\\ 35.5 10\\ 35.7 6\\ 35.95 5\\ 36.2 7\\ 36.38 20\\ 36.52 34\\ 36.65 17\\ 36.85 5\\ 37.1 6\\ 37.35 9\\ 37.55 5\\ 37.8 4\\ 38.1 5\\ 38.35 4\\ 38.58 8\\ 38.8 4\\ 39.1 5\\ 39.28 11\\ 39.41 17\\ 39.55 7\\ 39.8 4\\
40.0 5\\ 40.22 9\\ 40.45 4\\ 40.62 7\\ 40.78 11\\ 40.95 5\\ 41.2 3\\ 41.5 4\\ 41.8 3\\ 42.1 4\\ 42.3 9\\ 42.43 14\\ 42.58 5\\ 42.8 3\\ 43.1 2\\ 43.4 3\\ 43.7 2\\ 44.0 3\\ 44.3 2\\ 44.6 3\\ 44.9 2\\ 45.2 3\\ 45.5 5\\ 45.68 7\\ 45.9 3\\ 46.2 2\\ 46.5 3\\ 46.8 4\\ 47.1 3\\ 47.4 2\\ 47.7 3\\ 48.0 2\\ 48.3 3\\ 48.5 4\\ 48.68 6\\ 48.9 3\\ 49.2 2\\ 49.5 3\\ 49.8 7\\ 49.95 20\\
50.1 24\\ 50.25 10\\ 50.45 3\\ 50.8 2\\ 51.1 3\\ 51.4 2\\ 51.7 3\\ 51.94 5\\ 52.2 2\\ 52.5 1\\ 52.8 2\\ 53.1 1\\ 53.4 2\\ 53.7 1\\ 54.0 2\\ 54.3 1\\ 54.55 3\\ 54.8 6\\ 55.05 2\\ 55.4 1\\ 55.7 2\\ 56.0 1\\ 56.3 2\\ 56.6 1\\ 56.9 2\\ 57.2 1\\ 57.5 2\\ 57.8 1\\ 58.1 2\\ 58.4 1\\ 58.7 2\\ 59.0 1\\ 59.3 2\\ 59.55 5\\ 59.75 15\\ 59.9 18\\
60.05 7\\ 60.3 2\\ 60.6 1\\ 60.9 2\\ 61.2 1\\ 61.5 0\\ 61.8 1\\ 62.1 0\\ 62.4 1\\ 62.7 0\\ 63.0 1\\ 63.3 0\\ 63.6 1\\ 63.9 3\\ 64.07 5\\ 64.3 1\\ 64.6 0\\ 65.0 0\\
}\cfa

\tikzset{
  pk/.style={anchor=base, inner sep=0pt, font=\fontsize{18.5}{18.5}\selectfont},
  smp/.style={anchor=base, inner sep=0pt, font=\widefont\fontsize{12.75}{15}\selectfont},
  leg/.style={anchor=base west, inner sep=0pt, font=\widefont\fontsize{13}{15}\selectfont},
  xrd/.style={black, line width=0.6pt, line join=round, mark=none},
}
\newcommand{\pk}[3]{\node[pk] at (axis cs:#1,#2) {#3};}

\begin{document}
\begin{tikzpicture}
\begin{axis}[
  at={(0,0)}, anchor=south west,
  scale only axis, width=408pt, height=800pt,
  xmin=5, xmax=65, ymin=0, ymax=1600,
  enlargelimits=false, clip=false,
  axis x line=bottom, axis y line=none,
  axis line style={line width=1.15pt, -},
  xtick={5,10,...,65},
  tick align=outside, major tick length=5.8pt,
  tick style={line width=0.85pt, black},
  /pgf/number format/assume math mode=true,
  xticklabel style={font=\fontsize{18}{18}\selectfont, inner sep=0pt, anchor=north, yshift=-5.7pt},
]
% stacked patterns, each lifted by its own offset
\addplot[xrd] table[x=t, y expr=\thisrow{I}+1259] {\feA};
\addplot[xrd] table[x=t, y expr=\thisrow{I}+964] {\feB};
\addplot[xrd] table[x=t, y expr=\thisrow{I}+664] {\feC};
\addplot[xrd] table[x=t, y expr=\thisrow{I}+342] {\feD};
\addplot[xrd] table[x=t, y expr=\thisrow{I}+8] {\cfa};

% phase labels: CFA-X Fe 15%
\pk{6.0}{1406}{X} \pk{9.9}{1299}{X} \pk{11.9}{1288}{X} \pk{13.9}{1368}{S}
\pk{15.42}{1292}{X} \pk{19.95}{1292}{X} \pk{22.85}{1328}{X} \pk{24.25}{1484}{S}
\pk{26.66}{1344}{X} \pk{29.15}{1325}{X} \pk{31.1}{1327}{X} \pk{34.55}{1344}{S}
\pk{37.45}{1294}{X} \pk{42.8}{1337}{S} \pk{51.9}{1292}{X} \pk{58.05}{1286}{X}
% CFA-X Fe 7,5%
\pk{6.0}{1098}{X} \pk{9.95}{1003}{X} \pk{11.8}{986}{X} \pk{13.95}{1098}{S}
\pk{15.5}{996}{X} \pk{19.95}{995}{X} \pk{22.85}{1028}{X} \pk{24.25}{1194}{S}
\pk{26.6}{1040}{X} \pk{29.1}{1024}{X} \pk{31.2}{1033}{X} \pk{34.6}{1058}{S}
\pk{37.45}{997}{X} \pk{42.8}{1047}{S} \pk{51.9}{999}{X} \pk{58.05}{992}{X}
% CFA-X Fe 1%
\pk{6.0}{850}{X} \pk{9.9}{715}{X} \pk{11.85}{699}{X} \pk{13.95}{820}{S}
\pk{15.45}{719}{X} \pk{19.95}{704}{X} \pk{22.85}{756}{X} \pk{24.25}{890}{S}
\pk{26.66}{772}{X} \pk{29.15}{768}{X} \pk{31.05}{772}{X} \pk{34.55}{772}{S}
\pk{37.45}{700}{X} \pk{42.8}{749}{S} \pk{51.9}{701}{X} \pk{58.05}{701}{X}
% CFA-X
\pk{6.2}{530}{X} \pk{9.9}{388}{X} \pk{11.85}{366}{X} \pk{13.95}{501}{S}
\pk{15.45}{380}{X} \pk{19.9}{366}{X} \pk{22.85}{415}{X} \pk{24.25}{559}{S}
\pk{26.66}{425}{X} \pk{29.15}{420}{X} \pk{31.05}{432}{X} \pk{34.55}{436}{S}
\pk{37.45}{373}{X} \pk{42.8}{417}{S} \pk{51.9}{370}{X} \pk{58.05}{362}{X}
% CFA
\pk{26.45}{249}{Q} \pk{20.74}{79}{Q} \pk{25.42}{69}{a} \pk{31.35}{56}{G}
\pk{33.35}{28}{G} \pk{36.4}{86}{G} \pk{36.4}{51}{Q} \pk{39.3}{34}{Q}
\pk{42.4}{27}{G} \pk{50.02}{77}{G} \pk{50.02}{41}{Q} \pk{59.9}{37}{Q}

% sample names
\node[smp] at (axis cs:-1.47,1314) {CFA-X};
\node[smp] at (axis cs:-1.47,1284) {Fe 15\%};
\node[smp] at (axis cs:-1.5,1019) {CFA-X};
\node[smp] at (axis cs:-1.5,987) {Fe 7,5\%};
\node[smp] at (axis cs:-1.14,705.5) {CFA-X};
\node[smp] at (axis cs:-1.14,674) {Fe 1\%};
\node[smp] at (axis cs:-2.54,355.5) {CFA-X};
\node[smp] at (axis cs:-2.6,9) {CFA};

% phase key
\node[leg] at (axis cs:51.0,1560) {X - zeolit Na-X};
\node[leg] at (axis cs:51.0,1527) {S - sodalit};
\node[leg] at (axis cs:51.0,1494) {Q - kwarc};
\node[leg] at (axis cs:51.0,1461.5) {a - anhydryt};
\node[leg] at (axis cs:51.0,1429) {G - gehlenit};

% axis title
\node[anchor=base, inner sep=0pt, font=\fontsize{13.5}{15}\selectfont] at (axis cs:33.3,-110) {CuKα\,°\,2Θ};
\end{axis}
% frame
\draw[line width=1.35pt] (-90.25pt,-70pt) -- (-90.25pt,796.25pt) -- (430pt,796.25pt);
\pgfresetboundingbox
\useasboundingbox (-95pt,-62pt) rectangle (420pt,802pt);
\end{tikzpicture}
\end{document}
